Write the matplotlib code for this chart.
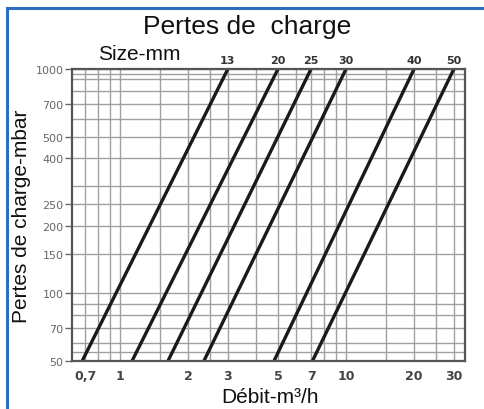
import matplotlib
matplotlib.use('Agg')
import matplotlib.pyplot as plt
from matplotlib.patches import Rectangle
from matplotlib.ticker import NullFormatter

# pipe sizes (mm) and flow (m3/h) at 50 mbar and at 1000 mbar
sizes = [13, 20, 25, 30, 40, 50]
flow_at_50 = [0.68, 1.13, 1.63, 2.35, 4.8, 7.1]
flow_at_1000 = [3.0, 5.0, 7.0, 10.0, 20.0, 30.0]
pressure_ends = [50, 1000]

x_ticks = [0.7, 1, 2, 3, 5, 7, 10, 20, 30]
x_ticklabels = ['0,7', '1', '2', '3', '5', '7', '10', '20', '30']
y_ticks = [50, 70, 100, 150, 200, 250, 400, 500, 700, 1000]
x_grid = [0.7, 0.8, 0.9, 1, 1.5, 2, 2.5, 3, 4, 5, 6, 7, 8, 9, 10, 15, 20, 25, 30]
y_grid = [50, 55, 60, 70, 80, 90, 100, 150, 200, 250, 300, 400, 500, 600,
          700, 800, 900, 950, 1000]

plt.rcParams['font.family'] = ['Liberation Sans', 'DejaVu Sans']

W, H = 485, 410
fig = plt.figure(figsize=(W / 100, H / 100), dpi=100)
fig.patch.set_facecolor('white')

# blue frame running off the right and bottom edges
fig.patches.append(Rectangle((7 / W, -0.05), 1.2, (H - 9) / H + 0.05,
                             transform=fig.transFigure, fill=False,
                             edgecolor='#2a6fbd', linewidth=2.2))

ax = fig.add_axes([72 / W, 1 - 362 / H, (465 - 72) / W, (362 - 70) / H])
ax.set_xscale('log')
ax.set_yscale('log')
ax.set_xlim(0.613, 33.6)
ax.set_ylim(50, 1000)

ax.set_xticks(x_grid, minor=True)
ax.set_yticks(y_grid, minor=True)
ax.xaxis.set_minor_formatter(NullFormatter())
ax.yaxis.set_minor_formatter(NullFormatter())
ax.set_xticks(x_ticks)
ax.set_xticklabels(x_ticklabels)
ax.set_yticks(y_ticks)
ax.set_yticklabels([str(v) for v in y_ticks])
ax.tick_params(axis='y', which='minor', length=0)
ax.tick_params(axis='x', which='both', length=0, pad=6)
ax.tick_params(axis='y', which='major', length=5, width=1, color='#666666', pad=1)
for lab in ax.get_xticklabels():
    lab.set_fontfamily('DejaVu Sans')
    lab.set_fontweight('bold')
    lab.set_fontsize(9)
    lab.set_color('#444444')
for lab in ax.get_yticklabels():
    lab.set_fontfamily('DejaVu Sans')
    lab.set_fontsize(8)
    lab.set_color('#666666')

ax.grid(which='both', color='#a0a0a0', linewidth=1.0)
ax.set_axisbelow(True)
for sp in ax.spines.values():
    sp.set_color('#555555')
    sp.set_linewidth(1.6)

for size, q0, q1 in zip(sizes, flow_at_50, flow_at_1000):
    ax.plot([q0, q1], pressure_ends, color='#1a1a1a', linewidth=2.4,
            solid_capstyle='butt', clip_on=False)
    ax.text(q1, 1000 * 1.045, str(size), ha='center', va='bottom',
            fontsize=8, fontweight='bold', color='#333333', family='DejaVu Sans')

ax.text(0.17, 1.02, 'Size-mm', transform=ax.transAxes, ha='center',
        va='bottom', fontsize=15, color='#111111')
fig.text(247 / W, 1 - 27 / H, 'Pertes de  charge', ha='center', va='center',
         fontsize=19, color='#111111')
fig.text(22 / W, 1 - 216 / H, 'Pertes de charge-mbar', rotation=90,
         ha='center', va='center', fontsize=15, color='#111111')
fig.text(270 / W, 1 - 398 / H, 'Débit-m³/h', ha='center', va='center',
         fontsize=15, color='#111111')

fig.savefig('out.png', dpi=100, facecolor='white')
